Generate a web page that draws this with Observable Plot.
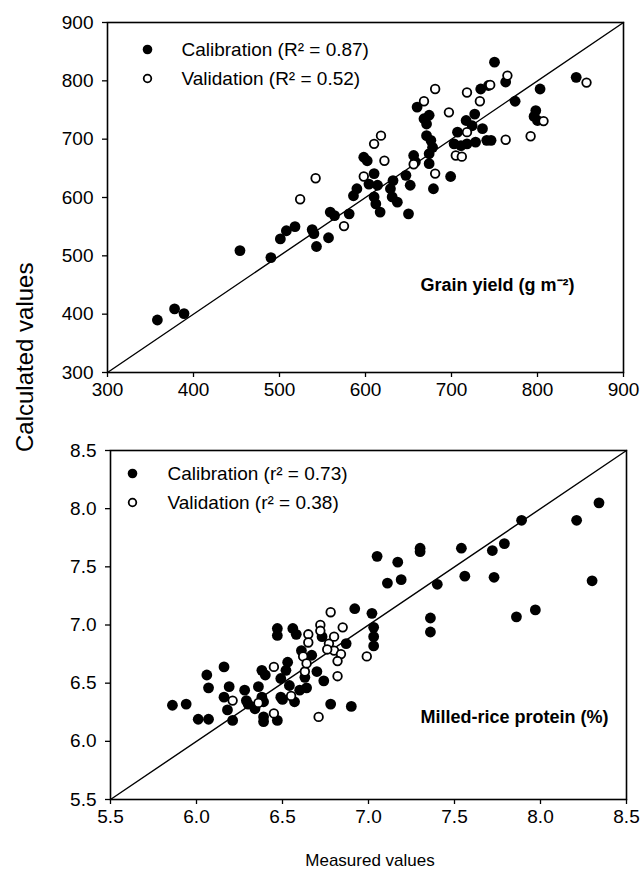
<!DOCTYPE html>
<html><head><meta charset="utf-8">
<script src="https://cdn.jsdelivr.net/npm/d3@7"></script>
<script src="https://cdn.jsdelivr.net/npm/@observablehq/plot@0.6"></script>
<style>
body{margin:0;background:#fff;}
#wrap{position:relative;width:643px;height:875px;background:#fff;font-family:"Liberation Sans",Arial,sans-serif;}
.panel{position:absolute;left:0;}
#labels{position:absolute;left:0;top:0;pointer-events:none;}
</style>
</head><body><div id="wrap"></div>
<script>
// ---- Grain yield (g m-2): [measured, calculated]
const yieldCalibration = [
 [358,390],[378,409],[389,401],[454,509],[490,497],[501,529],[508,543],[518,550],
 [538,545],[540,538],[543,516],[557,531],[559,575],[564,569],[581,572],[586,603],
 [590,615],[598,669],[602,663],[604,623],[610,641],[610,601],[612,589],[614,621],
 [617,575],[629,615],[631,601],[632,629],[637,592],[647,638],[652,621],[650,572],
 [656,672],[658,661],[660,755],[668,735],[671,726],[674,741],[671,706],[676,698],
 [678,686],[674,675],[674,658],[679,615],[699,636],[703,692],[707,712],[711,689],
 [717,732],[724,723],[727,743],[728,695],[736,718],[741,698],[734,786],[743,792],
 [750,832],[763,798],[774,765],[803,786],[798,749],[796,739],[800,732],[746,698],
 [845,806],[718,692]
];
const yieldValidation = [
 [524,597],[542,633],[575,551],[598,636],[610,692],[618,706],[622,663],[656,657],
 [668,765],[681,786],[681,641],[697,746],[705,672],[712,670],[718,712],[718,780],
 [733,765],[745,793],[765,809],[763,699],[792,705],[807,731],[857,797]
];
const yieldTicks = [300,400,500,600,700,800,900];

// ---- Milled-rice protein (%): [measured, calculated]
const proteinCalibration = [
 [5.86,6.31],[5.94,6.32],[6.01,6.19],[6.07,6.19],[6.06,6.57],[6.07,6.46],[6.16,6.64],
 [6.16,6.38],[6.19,6.47],[6.18,6.27],[6.21,6.18],[6.28,6.44],[6.29,6.35],[6.30,6.32],
 [6.34,6.28],[6.36,6.47],[6.38,6.61],[6.38,6.38],[6.40,6.57],[6.39,6.34],[6.39,6.21],
 [6.39,6.17],[6.47,6.97],[6.47,6.91],[6.47,6.18],[6.49,6.54],[6.49,6.38],[6.50,6.36],
 [6.52,6.61],[6.53,6.68],[6.54,6.48],[6.56,6.97],[6.58,6.92],[6.57,6.34],[6.60,6.44],
 [6.61,6.78],[6.63,6.55],[6.64,6.46],[6.67,6.74],[6.70,6.60],[6.74,6.52],[6.73,6.90],
 [6.78,6.32],[6.87,6.84],[6.90,6.30],[6.92,7.14],[7.02,7.10],[7.03,6.98],[7.03,6.90],
 [7.03,6.82],[7.05,7.59],[7.11,7.36],[7.17,7.54],[7.19,7.39],[7.30,7.66],[7.30,7.63],
 [7.36,7.06],[7.36,6.94],[7.40,7.35],[7.54,7.66],[7.56,7.42],[7.72,7.64],[7.73,7.41],
 [7.79,7.70],[7.86,7.07],[7.89,7.90],[7.97,7.13],[8.21,7.90],[8.30,7.38],[8.34,8.05]
];
const proteinValidation = [
 [6.21,6.35],[6.36,6.33],[6.45,6.24],[6.45,6.64],[6.55,6.39],[6.62,6.73],[6.63,6.60],
 [6.64,6.67],[6.65,6.92],[6.65,6.85],[6.71,6.21],[6.72,7.00],[6.72,6.95],[6.78,7.11],
 [6.77,6.84],[6.80,6.90],[6.80,6.78],[6.84,6.75],[6.82,6.69],[6.82,6.56],[6.85,6.98],
 [6.99,6.73],[6.76,6.79]
];
const proteinTicks = [5.5,6.0,6.5,7.0,7.5,8.0,8.5];

const yieldLegend = ["Calibration (R² = 0.87)", "Validation (R² = 0.52)"];
const proteinLegend = ["Calibration (r² = 0.73)", "Validation (r² = 0.38)"];
const yieldTitle = "Grain yield (g m⁻²)";
const proteinTitle = "Milled-rice protein (%)";
const yLabel = "Calculated values";
const xLabel = "Measured values";

const FONT = "Liberation Sans, Arial, sans-serif";

function panel(opts) {
  const {cal, val, ticks, fmt, legend, title, legDx, titleDx, titleDy} = opts;
  const dom = [ticks[0], ticks[ticks.length-1]];
  return Plot.plot({
    width: opts.width, height: opts.height, marginLeft: opts.mL, marginRight: opts.mR, marginTop: opts.mT, marginBottom: opts.mB,
    x: {domain: dom, label: null},
    y: {domain: dom, label: null},
    style: {fontFamily: FONT, fontSize: "19px", color: "#000", background: "#fff", overflow: "visible"},
    marks: [
      Plot.axisX({ticks, tickFormat: fmt, tickSize: 5, tickPadding: 5, label: null, fontSize: 19, strokeWidth: 1.3}),
      Plot.axisY({ticks, tickFormat: fmt, tickSize: 5, tickPadding: 9, label: null, fontSize: 19, strokeWidth: 1.3}),
      Plot.line([dom[0], dom[1]], {x: d => d, y: d => d, stroke: "#000", strokeWidth: 1.4}),
      Plot.dot(cal, {x: d => d[0], y: d => d[1], r: 5.4, fill: "#000", stroke: "none"}),
      Plot.dot(val, {x: d => d[0], y: d => d[1], r: 4.3, fill: "#fff", stroke: "#000", strokeWidth: 1.8}),
      Plot.frame({stroke: "#000", strokeWidth: 1.6}),
      Plot.dot([legend[0]], {frameAnchor: "top-left", dx: legDx, dy: opts.legDy0, r: 4.8, fill: "#000"}),
      Plot.dot([legend[1]], {frameAnchor: "top-left", dx: legDx, dy: opts.legDy1, r: 3.8, fill: "#fff", stroke: "#000", strokeWidth: 1.8}),
      Plot.text([legend[0]], {text: d => d, frameAnchor: "top-left", dx: legDx + opts.legGap, dy: opts.legDy0, textAnchor: "start", lineAnchor: "middle", fontSize: 19}),
      Plot.text([legend[1]], {text: d => d, frameAnchor: "top-left", dx: legDx + opts.legGap, dy: opts.legDy1, textAnchor: "start", lineAnchor: "middle", fontSize: 19}),
      Plot.text([title], {text: d => d, frameAnchor: "top-left", dx: titleDx, dy: titleDy, textAnchor: "start", lineAnchor: "middle", fontSize: 18, fontWeight: "bold"})
    ]
  });
}

const wrap = document.getElementById("wrap");

const p1 = panel({
  cal: yieldCalibration, val: yieldValidation, ticks: yieldTicks, fmt: d => String(d),
  legend: yieldLegend, title: yieldTitle,
  width: 643, height: 420, mL: 107, mR: 20, mT: 22, mB: 48,
  legDx: 40, legGap: 34, legDy0: 27, legDy1: 56, titleDx: 313, titleDy: 263
});
p1.classList.add("panel"); p1.style.top = "0px";
wrap.appendChild(p1);

const p2 = panel({
  cal: proteinCalibration, val: proteinValidation, ticks: proteinTicks, fmt: d3.format(".1f"),
  legend: proteinLegend, title: proteinTitle,
  width: 643, height: 417, mL: 110, mR: 17, mT: 22, mB: 46,
  legDx: 22, legGap: 35, legDy0: 23, legDy1: 52, titleDx: 310, titleDy: 267
});
p2.classList.add("panel"); p2.style.top = "428px";
wrap.appendChild(p2);

// shared axis labels
const svg = d3.select(wrap).append("svg").attr("id", "labels").attr("width", 643).attr("height", 875)
  .style("font-family", FONT);
svg.append("text").attr("transform", "translate(33,452) rotate(-90)").attr("text-anchor", "start")
  .attr("font-size", 24).attr("fill", "#000").text(yLabel);
svg.append("text").attr("x", 370).attr("y", 866).attr("text-anchor", "middle")
  .attr("font-size", 17).attr("fill", "#000").text(xLabel);
</script>
</body></html>
